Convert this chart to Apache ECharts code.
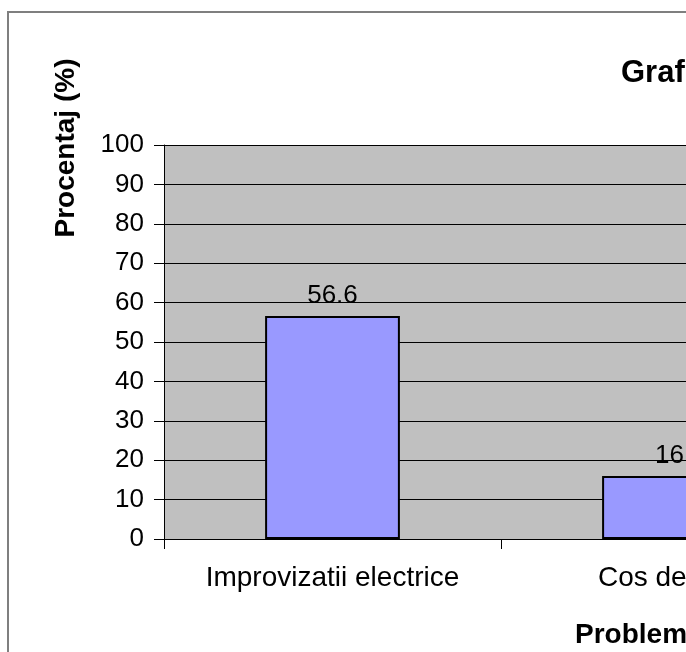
<!DOCTYPE html>
<html>
<head>
<meta charset="utf-8">
<script src="https://cdn.jsdelivr.net/npm/echarts@6/dist/echarts.min.js"></script>
<style>
  html, body { margin: 0; padding: 0; overflow: hidden; background: #fff; }
  #chart { width: 860px; height: 652px; }
</style>
</head>
<body>
<div id="chart"></div>
<script>
// data
const categories = ['Improvizatii electrice', 'Cos de fum'];
const procente = [56.6, 16];
const yTicks = { min: 0, max: 100, interval: 10 };

const fontFamily = '"Liberation Sans", Arial, sans-serif';

const chart = echarts.init(document.getElementById('chart'));

const option = {
  animation: false,
  backgroundColor: '#fff',
  title: [
    {
      text: 'Graficul problemelor constatate',
      left: 616,
      top: 53,
      textStyle: { fontFamily, fontSize: 31, fontWeight: 'bold', color: '#000' }
    },
    {
      text: 'Probleme constatate',
      left: 570,
      top: 616,
      textStyle: { fontFamily, fontSize: 28, fontWeight: 'bold', color: '#000' }
    }
  ],
  graphic: [
    {
      type: 'rect',
      shape: { x: 8, y: 12, width: 1000, height: 800 },
      style: { fill: 'none', stroke: '#7f7f7f', lineWidth: 2 },
      z: -1
    },
    {
      type: 'text',
      x: 66,
      y: 148,
      rotation: Math.PI / 2,
      style: {
        text: 'Procentaj (%)',
        font: 'bold 28px ' + fontFamily,
        fill: '#000',
        align: 'center',
        verticalAlign: 'middle'
      }
    }
  ],
  grid: {
    left: 164,
    right: 22,
    top: 145,
    bottom: 113,
    show: true,
    backgroundColor: '#c0c0c0',
    borderWidth: 0
  },
  xAxis: {
    type: 'category',
    data: categories,
    axisLine: { lineStyle: { color: '#000', width: 1 } },
    axisTick: { show: true, length: 10, lineStyle: { color: '#000' } },
    axisLabel: { fontFamily, fontSize: 28, color: '#000', margin: 25 },
    splitLine: { show: false }
  },
  yAxis: {
    type: 'value',
    min: yTicks.min,
    max: yTicks.max,
    interval: yTicks.interval,
    axisLine: { show: true, lineStyle: { color: '#000', width: 1 } },
    axisTick: { show: true, length: 10, lineStyle: { color: '#000' } },
    axisLabel: { fontFamily, fontSize: 26, color: '#000', margin: 20 },
    splitLine: { show: true, lineStyle: { color: '#000', width: 1 } }
  },
  series: [
    {
      type: 'bar',
      data: procente,
      barWidth: '40%',
      itemStyle: { color: '#9999ff', borderColor: '#000', borderWidth: 2 },
      label: {
        show: true,
        position: 'top',
        distance: 7,
        fontFamily,
        fontSize: 26,
        color: '#000'
      }
    }
  ]
};

chart.setOption(option);
</script>
</body>
</html>
